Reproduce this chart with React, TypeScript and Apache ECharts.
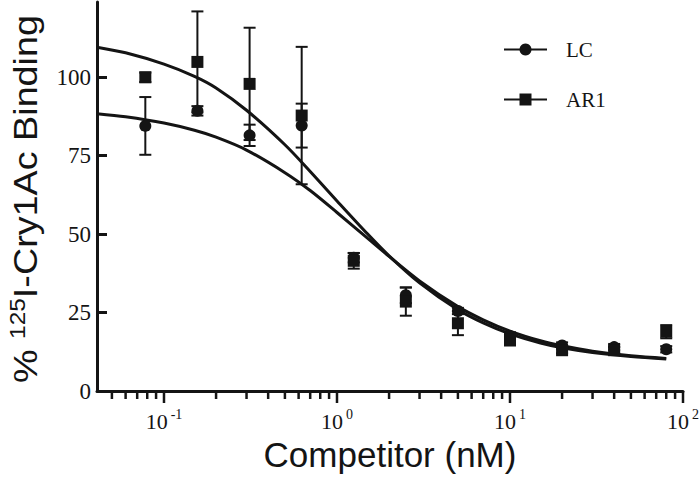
import React, { useEffect, useRef } from 'react';
import * as echarts from 'echarts';

// Competitor concentrations (nM)
const conc = [0.078, 0.156, 0.3125, 0.625, 1.25, 2.5, 5, 10, 20, 40, 80];
// LC
const lcMean = [84.5, 89.3, 81.5, 84.6, 42.5, 30.5, 25.5, 17.5, 14.5, 14, 13.3];
const lcErr = [9.2, 1.5, 3.4, 7, 1.5, 2.5, 1, 1.2, 1, 1, 1];
// AR1
const ar1Mean = [100, 104.9, 97.9, 87.8, 41.5, 28.5, 21.6, 16.5, 13, 13, 18.9];
const ar1Err = [1.5, 16.1, 17.9, 21.9, 2.5, 4.5, 3.8, 2, 1, 1, 2.1];

// fitted curves
const curveX = [0.041, 0.06, 0.1, 0.15, 0.2, 0.3, 0.5, 0.7, 1, 1.5, 2, 3, 5, 7, 10, 15, 20, 30, 50, 80];
const lcCurve = [88.4, 87.4, 85.4, 83.1, 80.9, 76.8, 69.6, 63.9, 56.9, 48.7, 42.9, 35.1, 26.9, 22.7, 19.1, 16.0, 14.4, 12.7, 11.2, 10.4];
const ar1Curve = [109.6, 107.8, 104.2, 100.3, 96.6, 89.5, 78.5, 70.0, 60.6, 50.1, 43.1, 34.5, 25.9, 21.7, 18.2, 15.3, 13.8, 12.3, 11.0, 10.2];

// axis ticks
const xMajorTicks = [0.1, 1, 10, 100];
const xMinorTicks = [
  0.05, 0.06, 0.07, 0.08, 0.09,
  0.2, 0.3, 0.4, 0.5, 0.6, 0.7, 0.8, 0.9,
  2, 3, 4, 5, 6, 7, 8, 9,
  20, 30, 40, 50, 60, 70, 80, 90,
];
const yTicks = [0, 25, 50, 75, 100];

const INK = '#141414';

function tickSeries(values: number[], len: number, name: string) {
  return {
    type: 'custom',
    name,
    silent: true,
    clip: false,
    z: 1,
    data: values.map((v) => [v, 0]),
    encode: { x: 0, y: 1 },
    renderItem: (_p: any, api: any) => {
      const p = api.coord([api.value(0), 0]);
      return {
        type: 'line',
        shape: { x1: p[0], y1: p[1], x2: p[0], y2: p[1] + len },
        style: { stroke: INK, lineWidth: 2.5 },
      };
    },
  };
}

function errSeries(name: string, means: number[], errs: number[]) {
  return {
    type: 'custom',
    name,
    silent: true,
    clip: false,
    z: 3,
    data: conc.map((x, i) => [x, means[i] - errs[i], means[i] + errs[i]]),
    encode: { x: 0, y: [1, 2] },
    renderItem: (_p: any, api: any) => {
      const x = api.value(0);
      const lo = api.coord([x, api.value(1)]);
      const hi = api.coord([x, api.value(2)]);
      const w = 6;
      const style = { stroke: INK, lineWidth: 2 };
      return {
        type: 'group',
        children: [
          { type: 'line', shape: { x1: lo[0], y1: lo[1], x2: hi[0], y2: hi[1] }, style },
          { type: 'line', shape: { x1: lo[0] - w, y1: lo[1], x2: lo[0] + w, y2: lo[1] }, style },
          { type: 'line', shape: { x1: hi[0] - w, y1: hi[1], x2: hi[0] + w, y2: hi[1] }, style },
        ],
      };
    },
  };
}

export default function App() {
  const ref = useRef<HTMLDivElement>(null);
  useEffect(() => {
    if (!ref.current) return;
    const chart = echarts.init(ref.current, undefined, { renderer: 'svg' });
    const option: any = {
      animation: false,
      backgroundColor: '#ffffff',
      grid: { left: 97, right: 17, top: 2, bottom: 87, containLabel: false, outerBoundsMode: 'none' },
      legend: {
        orient: 'vertical',
        left: 498,
        top: 34,
        itemWidth: 43,
        itemHeight: 15,
        itemGap: 29,
        data: ['LC', 'AR1'],
        textStyle: { fontFamily: 'Liberation Serif', fontSize: 21, color: INK, padding: [0, 0, 0, 14] },
      },
      xAxis: {
        type: 'log',
        logBase: 10,
        min: 0.041,
        max: 100,
        name: 'Competitor (nM)',
        nameLocation: 'middle',
        nameGap: 45,
        nameTextStyle: { fontFamily: 'Liberation Sans', fontSize: 35, color: INK },
        axisLine: { show: true, lineStyle: { color: INK, width: 3 } },
        axisTick: { show: false },
        splitLine: { show: false },
        axisLabel: {
          customValues: xMajorTicks,
          margin: 16,
          formatter: (v: number) => `{b|10}{s|${Math.round(Math.log10(v))}}`,
          rich: {
            b: { fontFamily: 'Liberation Serif', fontSize: 22, color: INK, verticalAlign: 'bottom' },
            s: { fontFamily: 'Liberation Serif', fontSize: 14, color: INK, padding: [0, 0, 11, 3], verticalAlign: 'bottom' },
          },
        },
      },
      yAxis: {
        type: 'value',
        min: 0,
        max: 124,
        interval: 25,
        axisLine: { show: true, lineStyle: { color: INK, width: 3 } },
        axisTick: { show: true, inside: true, length: 10, customValues: yTicks, lineStyle: { color: INK, width: 3 } },
        splitLine: { show: false },
        axisLabel: {
          customValues: yTicks,
          margin: 6,
          fontFamily: 'Liberation Serif',
          fontSize: 23,
          color: INK,
        },
      },
      graphic: [
        {
          type: 'text',
          x: 24,
          y: 199,
          rotation: Math.PI / 2,
          scaleX: 1.11,
          style: {
            text: '{a|% }{s|125}{a|I-Cry1Ac Binding}',
            align: 'center',
            verticalAlign: 'middle',
            rich: {
              a: { fontFamily: 'Liberation Sans', fontSize: 34, fill: INK, color: INK, verticalAlign: 'bottom' },
              s: { fontFamily: 'Liberation Sans', fontSize: 22, fill: INK, color: INK, verticalAlign: 'bottom', padding: [0, 0, 14, 0] },
            },
          },
        },
      ],
      series: [
        tickSeries(xMajorTicks, 12, 'major ticks'),
        tickSeries(xMinorTicks, 8, 'minor ticks'),
        {
          type: 'line',
          name: 'LC',
          data: curveX.map((x, i) => [x, lcCurve[i]]),
          smooth: 0.3,
          showSymbol: false,
          symbol: 'circle',
          symbolSize: 12,
          lineStyle: { color: INK, width: 3 },
          itemStyle: { color: INK },
          z: 2,
          silent: true,
        },
        {
          type: 'line',
          name: 'AR1',
          data: curveX.map((x, i) => [x, ar1Curve[i]]),
          smooth: 0.3,
          showSymbol: false,
          symbol: 'rect',
          symbolSize: 12,
          lineStyle: { color: INK, width: 3 },
          itemStyle: { color: INK },
          z: 2,
          silent: true,
        },
        errSeries('LC error', lcMean, lcErr),
        errSeries('AR1 error', ar1Mean, ar1Err),
        {
          type: 'scatter',
          name: 'LC points',
          symbol: 'circle',
          symbolSize: 12,
          itemStyle: { color: INK, opacity: 1 },
          data: conc.map((x, i) => [x, lcMean[i]]),
          z: 4,
        },
        {
          type: 'scatter',
          name: 'AR1 points',
          symbol: 'rect',
          symbolSize: 12,
          itemStyle: { color: INK, opacity: 1 },
          data: conc.map((x, i) => [x, ar1Mean[i]]),
          z: 4,
        },
      ],
    };
    chart.setOption(option);
    return () => chart.dispose();
  }, []);
  return (
    <div
      ref={ref}
      style={{ position: 'fixed', left: 0, top: 0, width: 700, height: 478, background: '#fff' }}
    />
  );
}
